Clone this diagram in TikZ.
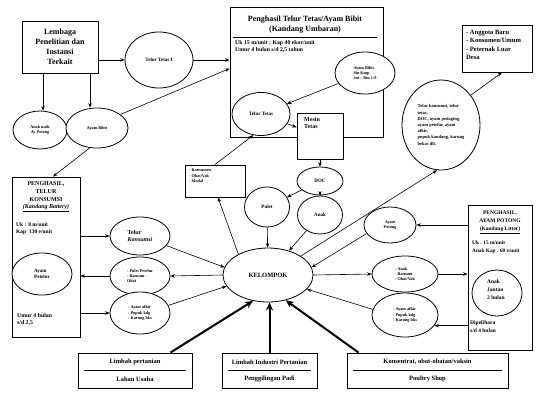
\documentclass[tikz,border=0pt]{standalone}
\usepackage{fontspec}
\setmainfont{Liberation Serif}
\usetikzlibrary{shapes.geometric,arrows.meta}
\newcommand{\szA}{\fontsize{4.2}{5.2}\selectfont\bfseries}
\newcommand{\szB}{\fontsize{5}{6.3}\selectfont\bfseries}
\newcommand{\szC}{\fontsize{6}{7.6}\selectfont\bfseries}
\newcommand{\szD}{\fontsize{6.5}{8.3}\selectfont\bfseries}
\newcommand{\szE}{\fontsize{8}{10}\selectfont\bfseries}
\newcommand{\szR}{\fontsize{4.5}{6.2}\selectfont\bfseries}
\tikzset{
 bx/.style={draw, line width=0.9pt, inner sep=0pt, fill=white},
 el/.style={ellipse, draw, line width=0.8pt, inner sep=0pt, fill=white},
 tx/.style={inner sep=0pt},
 ar/.style={line width=0.6pt, -{Stealth[length=4.5pt,width=3.5pt]}},
 tar/.style={line width=2pt, -{Stealth[length=8pt,width=7pt]}},
 sep/.style={line width=0.7pt},
}
\begin{document}
\begin{tikzpicture}[x=1pt,y=-1pt]
\useasboundingbox (0,0) rectangle (537,394);

% ---------- top left ----------
\node[bx, minimum width=76pt, minimum height=52pt, align=center, font=\szE] (lem) at (60,47) {Lembaga\\Penelitian dan\\Instansi\\Terkait};
\node[el, minimum width=68pt, minimum height=56pt, font=\szB] (tt1) at (159,60) {Telur Tetas I};
\node[el, minimum width=54pt, minimum height=38pt, align=center, font=\szA] (ua) at (40,130) {Anak untk\\Ay Potong};
\node[el, minimum width=62pt, minimum height=40pt, font=\szA] (abl) at (97,128) {Ayam Bibit};

% ---------- big box ----------
\node[bx, minimum width=153pt, minimum height=130pt] (big) at (306.5,72) {};
\node[tx, align=center, font=\szE] (bigt) at (305,25) {Penghasil Telur Tetas/Ayam Bibit\\(Kandang Umbaran)};
\draw[sep] (big.north west) ++(3,31) -- ++(144,0);
\node[tx, anchor=north west, align=left, font=\fontsize{5.8}{7}\selectfont\bfseries] (bigu) at (235,40.5) {Uk 15 m/unit ; Kap 40 ekor/unit\\Umur 4 bulan s/d 2,5 tahun};
\node[el, minimum width=60pt, minimum height=42pt, align=left, font=\szA] (ab) at (365,73) {Ayam Bibit\\Sin Kmp\\Jnt : Btn 1:9};
\node[el, minimum width=58pt, minimum height=43pt, font=\szB] (tt) at (261,114) {Telur Tetas};
\node[bx, minimum width=46pt, minimum height=46pt] (mt) at (320,136) {};
\node[tx, anchor=north west, align=left, font=\szC] (mtt) at (304,117) {Mesin\\Tetas};

% ---------- middle ----------
\node[el, minimum width=46pt, minimum height=28pt, font=\szB] (doc) at (320,181) {DOC};
\node[el, minimum width=45pt, minimum height=40pt, font=\szB] (pot) at (267,207) {Pulet};
\node[el, minimum width=45pt, minimum height=38pt, font=\szB] (anak) at (320,215) {Anak};
\node[bx, minimum width=60pt, minimum height=32pt] (kon) at (215,181) {};
\node[tx, anchor=north west, align=left, font=\szA] (kont) at (189,169) {- Konsumen\\- Obat/Vak\\- Modal};
\node[el, minimum width=90pt, minimum height=54pt, font=\fontsize{6.5}{8}\selectfont\bfseries] (kel) at (268,275) {KELOMPOK};

% ---------- right top ----------
\node[el, minimum width=78pt, minimum height=90pt, align=left, font=\szR] (bre) at (441,125) {Telur konsumsi, telur\\tetas,\\DOC, ayam pedaging,\\ayam petelur, ayam\\afkir,\\pupuk kandang, karung\\bekas dll.};
\node[bx, minimum width=70pt, minimum height=47pt] (ang) at (497,48.5) {};
\node[tx, anchor=north west, align=left, font=\szD] (angt) at (466,30) {- Anggota Baru\\- Konsumen/Umum\\- Peternak Luar\\Desa};

% ---------- left box ----------
\node[bx, minimum width=68pt, minimum height=160pt] (ptk) at (46,257) {};
\node[tx, align=center, font=\fontsize{6}{7.6}\selectfont\bfseries] (ptkt) at (46,197) {PENGHASIL,\\TELUR\\KONSUMSI\\\underline{\itshape (Kandang Battery)}};
\node[tx, anchor=north west, align=left, font=\fontsize{5.5}{7.2}\selectfont\bfseries] (ptku) at (16,222) {Uk : 8 m/unit\\Kap\ \ 130 e/unit};
\node[el, minimum width=60pt, minimum height=42pt, align=left, font=\szB] (apl) at (42,274) {Ayam\\Petelur};
\node[tx, anchor=north west, align=left, font=\fontsize{5.8}{7.6}\selectfont\bfseries] (ptkb) at (17,313) {Umur 4 bulan\\s/d 2,5};

\node[el, minimum width=60pt, minimum height=38pt, align=left, font=\szC] (tk) at (140,236) {Telur\\\itshape Konsumsi};
\node[el, minimum width=60pt, minimum height=38pt, align=left, font=\szA] (rp) at (140,276) {- Pulet Petelur\\- Ransum -\\Obat};
\node[el, minimum width=60pt, minimum height=42pt, align=left, font=\szA] (af) at (140,313) {- Ayam afkir\\- Pupuk kdg\\- Karung bks};

% ---------- right box ----------
\node[bx, minimum width=64pt, minimum height=145pt] (ayp) at (500,277.5) {};
\node[tx, align=center, font=\fontsize{5.5}{8}\selectfont\bfseries] (aypt) at (500,222) {PENGHASIL,\\AYAM POTONG\\\underline{(Kandang Litter)}};
\node[tx, anchor=north west, align=left, font=\fontsize{5.3}{8}\selectfont\bfseries] (aypu) at (472,241) {Uk . 15 m/unit\\Anak Kap . 60 e/unit};
\node[el, minimum width=50pt, minimum height=46pt] (ajt) at (497,293) {};
\node[tx, anchor=north west, align=left, font=\fontsize{5.5}{7.8}\selectfont\bfseries] (ajtt) at (487,279.5) {Anak\\Jantan\\2 bulan};
\node[tx, anchor=north west, align=left, font=\fontsize{5.5}{7.8}\selectfont\bfseries] (aypb) at (470,320.5) {Dipelihara\\s/d 4 bulan};

\node[el, minimum width=52pt, minimum height=36pt, align=center, font=\szA] (apt) at (390,225) {Ayam\\Potong};
\node[el, minimum width=66pt, minimum height=36pt, align=left, font=\szA] (rar) at (405,274) {- Anak\\- Ransum\\- Obat/Vak};
\node[el, minimum width=66pt, minimum height=44pt, align=left, font=\szA] (afr) at (405,315) {- Ayam afkir\\- Pupuk kdg\\- Karung bks};

% ---------- bottom boxes ----------
\node[bx, minimum width=114pt, minimum height=35pt] (lp) at (135,370.5) {};
\node[tx, font=\szD] (lpa) at (135,362) {Limbah pertanian};
\draw[sep] ([xshift=6pt]lp.west) -- ([xshift=-6pt]lp.east);
\node[tx, font=\szD] (lpb) at (135,379) {Lahan Usaha};

\node[bx, minimum width=95pt, minimum height=35pt] (lip) at (269.5,370.5) {};
\node[tx, font=\szD] (lipa) at (269.5,362) {Limbah Industri Pertanian};
\draw[sep] ([xshift=6pt]lip.west) -- ([xshift=-6pt]lip.east);
\node[tx, font=\szD] (lipb) at (269.5,379) {Penggilingan Padi};

\node[bx, minimum width=161pt, minimum height=35pt] (ks) at (427.5,370.5) {};
\node[tx, font=\szD] (ksa) at (427.5,362) {Konsentrat, obat-obatan/vaksin};
\draw[sep] ([xshift=6pt]ks.west) -- ([xshift=-6pt]ks.east);
\node[tx, font=\szD] (ksb) at (427.5,379) {Poultry Shop};

% ---------- connectors ----------
\draw[ar] (lem.east |- tt1.west) -- (tt1.west);
\draw[ar] ([xshift=-17pt]lem.south) -- ([xshift=-17pt]lem.south |- ua.north);
\draw[ar] ([xshift=30pt]lem.south) -- ([xshift=30pt]lem.south |- abl.north);
\draw[ar] (tt1.east) -- (big.west |- tt1.east);
\draw[ar] (abl.30) -- ([yshift=3.5pt]big.west);
\draw[ar] (abl.250) -- ([xshift=7pt]ptk.north);
\draw[ar] (ab) -- (tt);
\draw[ar] (tt) -- (mt);
\draw[ar] (mt) -- (doc);
\draw[ar] (doc) -- (pot);
\draw[ar] (doc) -- (anak);
\draw[ar] (pot) -- (kel);
\draw[ar] (anak) -- (kel);
\draw[ar] (kel.145) -- ([xshift=3pt]kon.south);
\draw[ar] (kon.north) -- (tt.250);
\draw[ar] (kel.30) -- (bre.265);
\draw[ar] (bre.45) -- ([xshift=5pt]ang.south);

\draw[ar] (ptk.east |- tk.west) -- (tk.west);
\draw[ar] (rp.west) -- (ptk.east |- rp.west);
\draw[ar] (ptk.east |- af.west) -- (af.west);
\draw[ar] (kel.west) -- (rp.east);
\draw[ar] (tk.-20) -- (kel.170);
\draw[ar] (af.15) -- (kel.195);

\draw[ar] (ayp.west |- apt.east) -- (apt.east);
\draw[ar] (apt.200) -- (kel.10);
\draw[ar] (kel.east) -- (rar.west);
\draw[ar] (rar.east) -- (ayp.west |- rar.east);
\draw[ar] (ayp.west |- afr.-20) -- (afr.-20);
\draw[ar] (afr.170) -- (kel.-20);

\draw[tar] ([xshift=-22pt]lp.north east) -- (kel.240);
\draw[tar] (lip.north) -- (lip.north |- kel.south);
\draw[tar] ([xshift=12pt]ks.north west) -- (kel.-55);
\end{tikzpicture}
\end{document}
